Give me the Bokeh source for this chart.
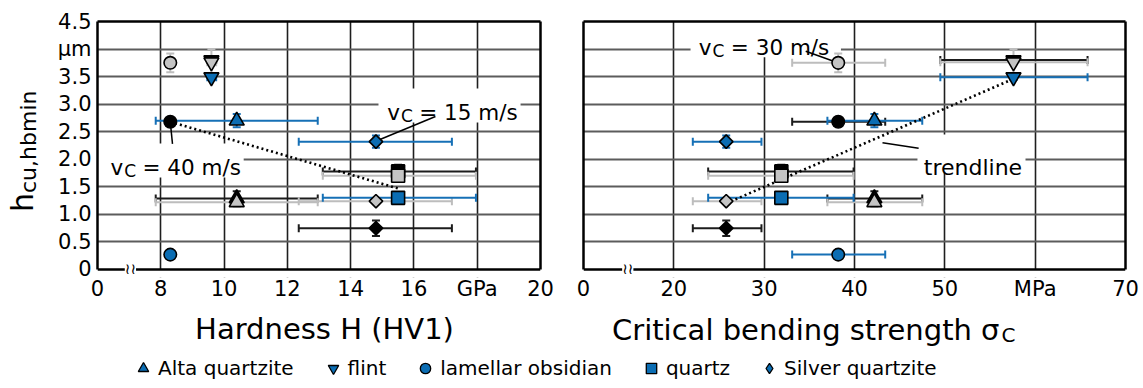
import math
from bokeh.plotting import figure
from bokeh.models import (Range1d, FixedTicker, LinearAxis, Label, Legend,
                          LegendItem, ColumnDataSource, Div)
from bokeh.layouts import column, row
from bokeh.embed import file_html
from bokeh.resources import INLINE

FONT = "DejaVu Sans"

# ---------------- data ----------------
materials = ["Alta quartzite", "flint", "lamellar obsidian", "quartz", "Silver quartzite"]

hardness = [10.4, 9.6, 8.3, 15.5, 14.8]            # GPa
hardness_lo = [7.84, 9.47, 8.3, 13.12, 12.36]
hardness_hi = [12.96, 9.75, 8.3, 17.96, 17.2]

strength = [42.2, 57.6, 38.2, 31.9, 25.8]           # MPa
strength_lo = [37.0, 49.5, 33.1, 23.8, 22.1]
strength_hi = [47.5, 65.8, 43.4, 39.9, 29.7]

h_vc15 = [2.70, 3.49, 0.27, 1.30, 2.32]             # µm
h_vc30 = [1.22, 3.76, 3.75, 1.70, 1.24]
h_vc40 = [1.29, 3.80, 2.68, 1.78, 0.75]
herr_vc15 = [0.12, 0.05, 0.0, 0.06, 0.11]
herr_vc30 = [0.08, 0.24, 0.17, 0.06, 0.05]
herr_vc40 = [0.13, 0.05, 0.05, 0.12, 0.14]

trend_hardness_x = [8.3, 15.5]
trend_hardness_y = [2.68, 1.47]
trend_strength_x = [25.8, 57.6]
trend_strength_y = [1.20, 3.46]

hx_ticks = [6, 8, 10, 12, 14, 16, 18, 20]
hx_labels = ["0", "8", "10", "12", "14", "16", "GPa", "20"]
sx_ticks = [10, 20, 30, 40, 50, 60, 70]
sx_labels = ["0", "20", "30", "40", "50", "MPa", "70"]
y_ticks = [0, 0.5, 1.0, 1.5, 2.0, 2.5, 3.0, 3.5, 4.0, 4.5]
y_labels = ["0", "0.5", "1.0", "1.5", "2.0", "2.5", "3.0", "3.5", "µm", "4.5"]

# ---------------- styles ----------------
BLUE = "#0b6db3"
FILL = {15: BLUE, 30: "#c4c4c4", 40: "#000000"}
BAR = {15: "#1670b6", 30: "#bdbdbd", 40: "#1c1c1c"}
MARKERS = ["triangle", "inverted_triangle", "circle", "square", "square"]
ANGLES = [0, 0, 0, 0, math.pi / 4]
SIZES = [15, 15, 12.5, 13, 9.5]
SERIES = [(40, h_vc40, herr_vc40), (30, h_vc30, herr_vc30), (15, h_vc15, herr_vc15)]
Y0, Y1 = y_ticks[0], y_ticks[-1]
Y_EXT = 0.1452          # room below the axis line for the axis-break mark
TOP_H = 304


def make_fig(width, ticks, labels, bl, br, show_y):
    p = figure(width=width, height=TOP_H, x_range=Range1d(ticks[0], ticks[-1]),
               y_range=Range1d(Y0 - Y_EXT, Y1),
               output_backend="svg", toolbar_location=None, background_fill_color="white",
               min_border_left=bl, min_border_right=br, min_border_top=21, min_border_bottom=27)
    p.outline_line_color = None
    xa = p.below[0]
    ya = p.left[0]
    for ax in (xa, ya):
        ax.major_tick_line_color = None
        ax.minor_tick_line_color = None
        ax.major_tick_out = 0
        ax.major_tick_in = 0
        ax.major_label_text_font = FONT
        ax.major_label_text_font_size = "21px"
        ax.major_label_text_color = "black"
    xa.axis_line_color = None
    xa.ticker = FixedTicker(ticks=ticks)
    xa.major_label_overrides = dict(zip(ticks, labels))
    xa.major_label_standoff = -1
    ya.axis_line_width = 2.5
    ya.axis_line_color = "black"
    ya.bounds = (Y0, Y1)
    if show_y:
        ya.ticker = FixedTicker(ticks=y_ticks)
        ya.major_label_overrides = dict(zip(y_ticks, y_labels))
        ya.major_label_standoff = 6
    else:
        ya.ticker = FixedTicker(ticks=[])
    p.xgrid.ticker = FixedTicker(ticks=ticks[1:-1])
    p.ygrid.ticker = FixedTicker(ticks=y_ticks[1:-1])
    p.xgrid.grid_line_color = "#1e1e1e"
    p.xgrid.grid_line_width = 1.6
    p.ygrid.grid_line_color = "#5c5c5c"
    p.ygrid.grid_line_width = 2
    for loc in ("above", "right"):
        ax = LinearAxis(ticker=FixedTicker(ticks=[]), axis_line_width=2.5, axis_line_color="black",
                        major_tick_line_color=None, minor_tick_line_color=None,
                        major_tick_out=0, major_tick_in=0)
        if loc == "right":
            ax.bounds = (Y0, Y1)
        p.add_layout(ax, loc)
    # hide grid below the axis line, then draw the bottom frame line at y = 0
    p.quad(left=[ticks[0]], right=[ticks[-1]], bottom=[Y0 - Y_EXT], top=[Y0],
           fill_color="white", line_color=None)
    p.segment(x0=[ticks[0]], y0=[Y0], x1=[ticks[-1]], y1=[Y0], line_color="black", line_width=2.5)
    return p


def white_box(p, l, r, b, t):
    p.quad(left=[l], right=[r], bottom=[b], top=[t], fill_color="white", line_color=None)


def draw_data(p, xs, xlo, xhi, tx, ty, leaders):
    for vc, hs, he in SERIES:
        c = BAR[vc]
        p.segment(x0=xlo, y0=hs, x1=xhi, y1=hs, line_color=c, line_width=2)
        p.scatter(x=xlo + xhi, y=hs + hs, marker="dash", angle=math.pi / 2, size=8,
                  line_color=c, line_width=2)
        lo = [h - e for h, e in zip(hs, he)]
        hi = [h + e for h, e in zip(hs, he)]
        p.segment(x0=xs, y0=lo, x1=xs, y1=hi, line_color=c, line_width=2)
        p.scatter(x=xs + xs, y=lo + hi, marker="dash", size=8, line_color=c, line_width=2)
    p.line(tx, ty, line_color="black", line_width=2.6, line_dash="2 3")
    for (x0, y0, x1, y1) in leaders:
        p.segment(x0=[x0], y0=[y0], x1=[x1], y1=[y1], line_color="black", line_width=1.5)
    for vc, hs, he in SERIES:
        src = ColumnDataSource(dict(x=xs, y=hs, m=MARKERS, a=ANGLES, s=SIZES))
        p.scatter(x="x", y="y", marker="m", angle="a", size="s", source=src,
                  fill_color=FILL[vc], line_color="black", line_width=1.6)


def txt(p, x, y, text, size, align="left", x_offset=0, y_offset=0, **kw):
    p.add_layout(Label(x=x, y=y, text=text, text_align=align, text_baseline="alphabetic",
                       x_offset=x_offset, y_offset=y_offset, text_font=FONT,
                       text_font_size=f"{size}px", text_color="black", **kw))


def vc_label(p, x, y, rest, size=21.5, sub_size=17):
    txt(p, x, y, "v", size, "right")
    txt(p, x, y, "C", sub_size, "left", x_offset=1, y_offset=-3.5)
    txt(p, x, y, rest, size, "left", x_offset=0.698 * sub_size + 7.5)


def break_mark(p, x):
    p.add_layout(Label(x=x, y=Y0, text="≀≀", text_align="center",
                       text_baseline="middle", text_font=FONT, text_font_size="15px",
                       text_color="black", background_fill_color="white"))


# ---------------- left panel: hardness ----------------
p1 = make_fig(515, hx_ticks, hx_labels, 52, 20, True)
white_box(p1, 6.0, 10.62, 1.669, 2.287)
white_box(p1, 14.88, 19.37, 2.667, 3.284)
draw_data(p1, hardness, hardness_lo, hardness_hi, trend_hardness_x, trend_hardness_y,
          [(8.37, 2.28, 8.3, 2.68), (16.68, 2.776, 14.85, 2.341)])
vc_label(p1, 6.81, 1.856, "= 40 m/s")
vc_label(p1, 15.556, 2.854, "= 15 m/s")
break_mark(p1, 7.04)

# ---------------- right panel: bending strength ----------------
p2 = make_fig(583, sx_ticks, sx_labels, 23, 18, False)
white_box(p2, 21.85, 38.5, 3.85, 4.5)
white_box(p2, 46.97, 58.93, 1.76, 2.45)
draw_data(p2, strength, strength_lo, strength_hi, trend_strength_x, trend_strength_y,
          [(34.6, 3.96, 38.0, 3.76), (47.1, 2.2, 43.1, 2.3)])
vc_label(p2, 24.17, 4.034, "= 30 m/s")
txt(p2, 47.67, 1.856, "trendline", 22)
break_mark(p2, 14.9)

# ---------------- y axis title (rotated HTML text) ----------------
ytitle_html = (
    '<div style="position:relative;width:45px;height:%dpx;">'
    '<div style="position:absolute;left:7.6px;top:212px;transform-origin:0 0;'
    'transform:rotate(-90deg);white-space:nowrap;font-family:\'DejaVu Sans\';'
    'font-size:30px;line-height:30px;color:#000;">h<span style="font-size:22px;'
    'position:relative;top:3px;">cu,hbmin</span></div></div>' % TOP_H
)
ylab = Div(text=ytitle_html, width=45, height=TOP_H, margin=0)


def text_strip(width, height):
    f = figure(width=width, height=height, x_range=Range1d(0, width), y_range=Range1d(height, 0),
               output_backend="svg", toolbar_location=None, x_axis_location=None,
               y_axis_location=None, min_border=0, background_fill_color="white")
    f.outline_line_color = None
    f.grid.visible = False
    return f


# ---------------- x axis titles + legend strip ----------------
bottom = text_strip(1143, 388 - TOP_H)
txt(bottom, 324, 24, "Hardness H (HV1)", 29, "center")
txt(bottom, 999, 25, "Critical bending strength σ", 29, "right")
txt(bottom, 1001, 30, "C", 20, "left")

legend_markers = ["triangle", "inverted_triangle", "circle", "square", "diamond"]
items = []
for name, mk in zip(materials, legend_markers):
    r = bottom.scatter(x=[float("nan")], y=[float("nan")], marker=mk, fill_color=BLUE,
                       line_color="black", line_width=1.3)
    items.append(LegendItem(label=name, renderers=[r]))
legend = Legend(items=items, orientation="horizontal", location=(130, 7),
                label_text_font=FONT, label_text_font_size="20px", label_text_color="black",
                glyph_width=26, glyph_height=26, label_standoff=2, spacing=26,
                padding=0, margin=0, border_line_color=None, background_fill_alpha=0)
bottom.add_layout(legend, "center")

layout = column(row(ylab, p1, p2), bottom)
open("out.html", "w").write(file_html(layout, INLINE))
